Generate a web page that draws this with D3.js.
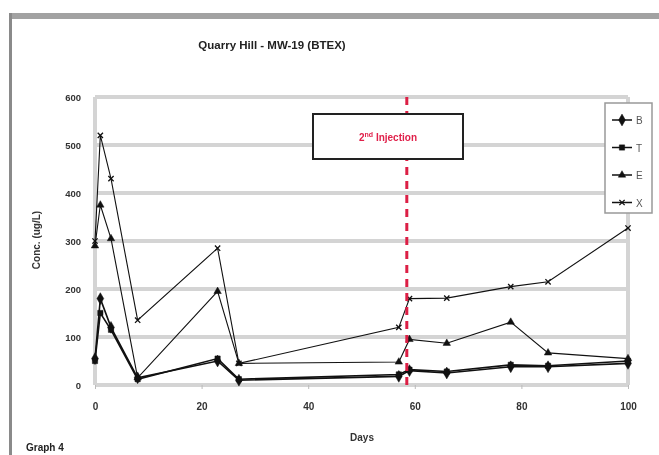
<!DOCTYPE html>
<html>
<head>
<meta charset="utf-8">
<script src="https://cdn.jsdelivr.net/npm/d3@7"></script>
<style>
  html, body { margin: 0; padding: 0; background: #fff; }
  svg { display: block; font-family: "Liberation Sans", Arial, sans-serif; filter: blur(0.5px); }
</style>
</head>
<body>
<svg id="chart" width="659" height="455"></svg>
<script>
// ---- data ----
const days    = [0, 1, 3, 8, 23, 27, 57, 59, 66, 78, 85, 100];
const seriesB = [55, 180, 120, 15, 50, 10, 18, 30, 25, 38, 38, 45];
const seriesT = [50, 150, 115, 12, 55, 12, 22, 32, 28, 42, 40, 50];
const seriesE = [290, 375, 305, 15, 195, 45, 48, 95, 87, 131, 67, 55];
const seriesX = [300, 520, 430, 135, 285, 45, 120, 180, 181, 205, 215, 327];
const seriesNames = ["B", "T", "E", "X"];
const yTicks = [0, 100, 200, 300, 400, 500, 600];
const xTicks = [0, 20, 40, 60, 80, 100];
const injectionDay = 58.5;
const titleText = "Quarry Hill - MW-19 (BTEX)";

const svg = d3.select("#chart");
const W = 659, H = 455;

// frame
svg.append("rect").attr("x", 0).attr("y", 0).attr("width", W).attr("height", H).attr("fill", "#fff");
svg.append("rect").attr("x", 9).attr("y", 13).attr("width", W - 9).attr("height", 6).attr("fill", "#a2a2a2");
svg.append("rect").attr("x", 9).attr("y", 13).attr("width", 3).attr("height", H - 13).attr("fill", "#8a8a8a");

const plot = { left: 95, right: 628, top: 97, bottom: 385 };
const x = d3.scaleLinear().domain([0, 100]).range([plot.left, plot.right]);
const y = d3.scaleLinear().domain([0, 600]).range([plot.bottom, plot.top]);

// title
svg.append("text").attr("x", 272).attr("y", 49).attr("text-anchor", "middle")
  .attr("font-size", 11.5).attr("font-weight", "bold").attr("fill", "#222").text(titleText);

// gridlines
svg.append("g").selectAll("line").data(yTicks).join("line")
  .attr("x1", plot.left).attr("x2", plot.right)
  .attr("y1", d => y(d)).attr("y2", d => y(d))
  .attr("stroke", "#d4d4d4").attr("stroke-width", 4);
svg.append("line").attr("x1", plot.left).attr("x2", plot.left).attr("y1", plot.top).attr("y2", plot.bottom)
  .attr("stroke", "#d4d4d4").attr("stroke-width", 4);
svg.append("line").attr("x1", plot.right).attr("x2", plot.right).attr("y1", plot.top).attr("y2", plot.bottom)
  .attr("stroke", "#d4d4d4").attr("stroke-width", 4);

// axes
const yAxis = svg.append("g").attr("transform", `translate(${plot.left},0)`)
  .call(d3.axisLeft(y).tickValues(yTicks).tickSize(0).tickPadding(14));
yAxis.select(".domain").remove();
yAxis.selectAll("text").attr("font-size", 9.5).attr("font-weight", "bold").attr("fill", "#333")
  .attr("font-family", "Liberation Sans, Arial, sans-serif");

const xAxis = svg.append("g").attr("transform", `translate(0,${plot.bottom})`)
  .call(d3.axisBottom(x).tickValues(xTicks).tickSize(4).tickPadding(14));
xAxis.select(".domain").remove();
xAxis.selectAll("line").attr("stroke", "#bbb");
xAxis.selectAll("text").attr("font-size", 10).attr("font-weight", "bold").attr("fill", "#333")
  .attr("font-family", "Liberation Sans, Arial, sans-serif");

// axis titles
svg.append("text").attr("transform", "translate(40,240) rotate(-90)").attr("text-anchor", "middle")
  .attr("font-size", 10).attr("font-weight", "bold").attr("fill", "#333").text("Conc. (ug/L)");
svg.append("text").attr("x", 362).attr("y", 441).attr("text-anchor", "middle")
  .attr("font-size", 10).attr("font-weight", "bold").attr("fill", "#333").text("Days");
svg.append("text").attr("x", 26).attr("y", 451)
  .attr("font-size", 10).attr("font-weight", "bold").attr("fill", "#222").text("Graph 4");

// series
const allSeries = [seriesB, seriesT, seriesE, seriesX];
const symbols = [d3.symbolDiamond, d3.symbolSquare, d3.symbolTriangle, d3.symbolTimes];
const symSizes = [40, 28, 24, 20];
const line = d3.line().x(d => x(d[0])).y(d => y(d[1]));

allSeries.forEach((vals, i) => {
  const pts = days.map((d, j) => [d, vals[j]]);
  const g = svg.append("g");
  g.append("path").datum(pts).attr("d", line).attr("fill", "none")
    .attr("stroke", "#111").attr("stroke-width", i < 2 ? 1.6 : 1.1);
  g.selectAll("path.m").data(pts).join("path").attr("class", "m")
    .attr("transform", d => `translate(${x(d[0])},${y(d[1])})`)
    .attr("d", d3.symbol().type(symbols[i]).size(symSizes[i]))
    .attr("fill", i === 3 ? "none" : "#111").attr("stroke", "#111")
    .attr("stroke-width", i === 3 ? 1.3 : 0.5);
});

// injection line
svg.append("line").attr("x1", x(injectionDay)).attr("x2", x(injectionDay))
  .attr("y1", y(600)).attr("y2", y(0))
  .attr("stroke", "#dc1f45").attr("stroke-width", 3).attr("stroke-dasharray", "8,6");

// annotation box
svg.append("rect").attr("x", 313).attr("y", 114).attr("width", 150).attr("height", 45)
  .attr("fill", "#fff").attr("stroke", "#222").attr("stroke-width", 2);
const ann = svg.append("text").attr("x", 388).attr("y", 141).attr("text-anchor", "middle")
  .attr("font-size", 10).attr("font-weight", "bold").attr("fill", "#e0204a");
ann.append("tspan").text("2");
ann.append("tspan").attr("font-size", 7).attr("dy", -4).text("nd");
ann.append("tspan").attr("dy", 4).text(" Injection");

// legend
const lg = svg.append("g");
lg.append("rect").attr("x", 605).attr("y", 103).attr("width", 47).attr("height", 110)
  .attr("fill", "#fff").attr("stroke", "#999").attr("stroke-width", 1.5);
seriesNames.forEach((n, i) => {
  const ly = 120 + i * 27.5;
  lg.append("line").attr("x1", 612).attr("x2", 632).attr("y1", ly).attr("y2", ly)
    .attr("stroke", "#111").attr("stroke-width", 1.5);
  lg.append("path").attr("transform", `translate(622,${ly})`)
    .attr("d", d3.symbol().type(symbols[i]).size(symSizes[i]))
    .attr("fill", i === 3 ? "none" : "#111").attr("stroke", "#111").attr("stroke-width", i === 3 ? 1.3 : 0.5);
  lg.append("text").attr("x", 636).attr("y", ly + 4).attr("font-size", 10).attr("fill", "#555").text(n);
});
</script>
</body>
</html>
